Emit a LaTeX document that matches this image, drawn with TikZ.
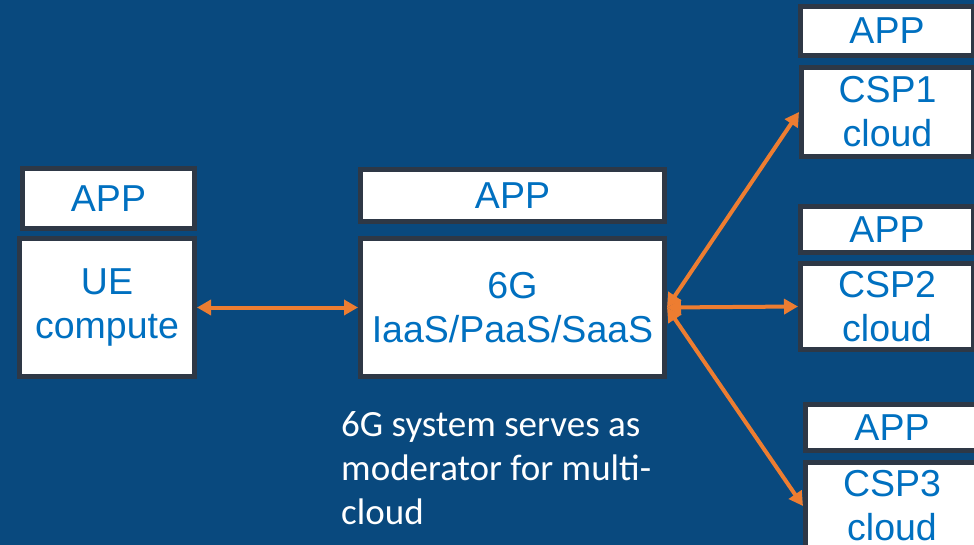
\documentclass[tikz,border=0pt]{standalone}
\usepackage{fontspec}
\setmainfont{Liberation Sans}
\newfontfamily\notefont{Carlito}
\usetikzlibrary{scopes,arrows.meta}

\definecolor{bg}{RGB}{9,73,126}
\definecolor{edge}{RGB}{46,56,70}
\definecolor{label}{RGB}{0,112,192}
\definecolor{link}{RGB}{237,125,49}

\begin{document}
\begin{tikzpicture}[x=1pt,y=-1pt,
    box/.style={draw=edge,fill=white,line width=5pt,inner sep=0pt,align=center,
        text=label,font=\fontsize{37.5}{44}\selectfont},
    link/.style={>={Triangle[length=14pt,width=15pt]},draw=link,line width=4pt},
]
    \fill[bg] (0,0) rectangle (974,545);
    \useasboundingbox (0,0) rectangle (974,545);
    \clip (0,0) rectangle (974,545);

    % UE side
    \node[box,minimum width=172pt,minimum height=60pt] (ueapp) at (108.5,198.5) {APP};
    \node[box,minimum width=175pt,minimum height=138pt] (ue) at (107,307.5) {UE\\compute};

    % 6G system
    \node[box,minimum width=304pt,minimum height=52pt] (gapp) at (512.5,195.5) {APP};
    \node[box,minimum width=304pt,minimum height=138pt] (g) at (512.5,307.5) {6G\\IaaS/PaaS/SaaS};

    % clouds
    \node[box,minimum width=173pt,minimum height=49pt] (app1) at (887,31) {APP};
    \node[box,minimum width=172pt,minimum height=89pt] (csp1) at (887.5,112) {CSP1\\cloud};
    \node[box,minimum width=173pt,minimum height=46pt] (app2) at (887,229.5) {APP};
    \node[box,minimum width=173pt,minimum height=86pt] (csp2) at (887,306.5) {CSP2\\cloud};
    \node[box,minimum width=173pt,minimum height=46pt] (app3) at (892,427.5) {APP};
    \node[box,minimum width=173pt,minimum height=87pt] (csp3) at (892,506) {CSP3\\cloud};

    \node[anchor=north west,inner sep=0pt,align=left,text=white,
        font=\notefont\fontsize{37}{44}\selectfont] (note) at (341,411)
        {6G system serves as\\moderator for multi-\\cloud};

    {[link,<->]
        \draw (ue.east) -- (g.west);
        \draw (g.east) -- (csp1.west);
        \draw (g.east) -- (csp2.west);
        \draw (g.east) -- (csp3.west);
    }
\end{tikzpicture}
\end{document}
